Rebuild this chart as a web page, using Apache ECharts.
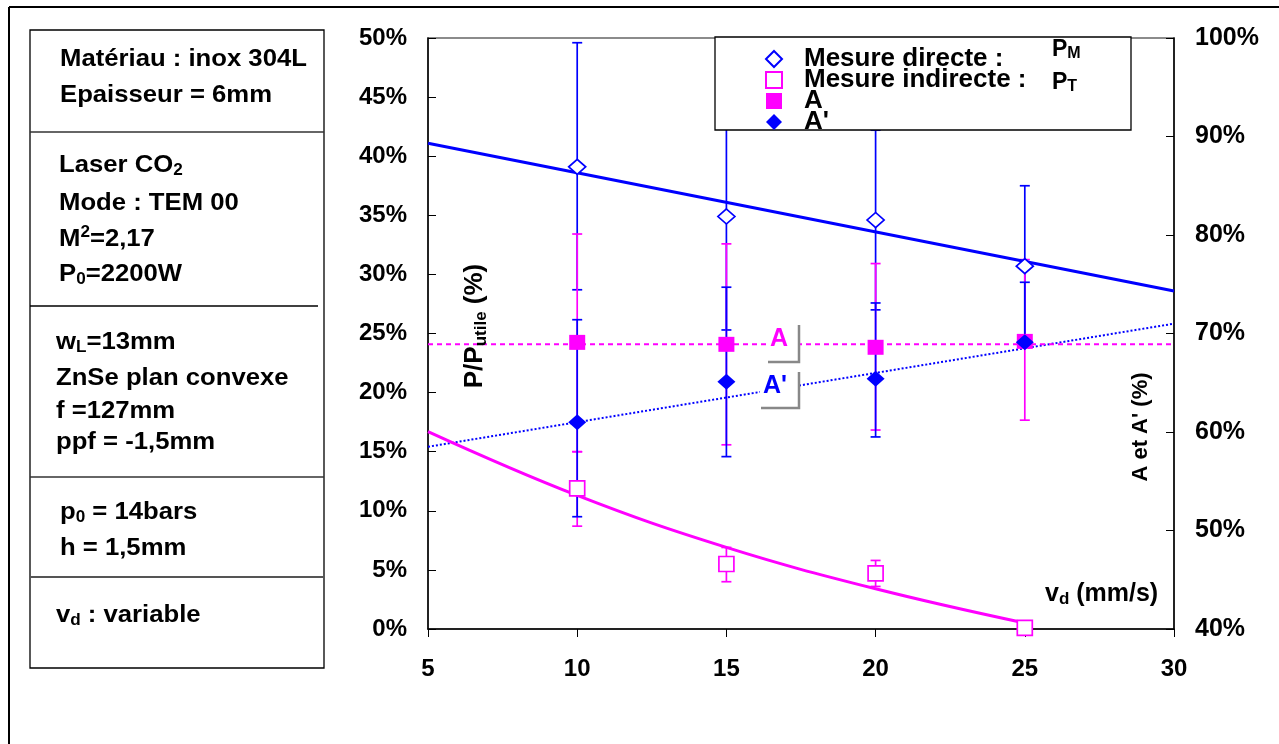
<!DOCTYPE html>
<html><head><meta charset="utf-8">
<script src="https://cdn.jsdelivr.net/npm/echarts@6/dist/echarts.min.js"></script>
<style>html,body{margin:0;padding:0;background:#fff}#c{width:1279px;height:744px}</style>
</head><body><div id="c"></div>
<script>
// ---- data ----
const speeds = [10, 15, 20, 25];
const pmValues = [39.1, 34.9, 34.6, 30.7];
const pmHigh = [49.6, 44.5, 42.2, 37.5];
const pmLow = [28.7, 25.3, 27.0, 23.9];
const ptValues = [11.9, 5.5, 4.7, 0.1];
const ptHigh = [15.0, 6.9, 5.8, 0.1];
const ptLow = [8.7, 4.0, 3.6, 0.1];
const aValues = [69.1, 68.9, 68.6, 69.2];
const aHigh = [80.1, 79.1, 77.1, 77.5];
const aLow = [58.0, 58.7, 60.2, 61.2];
const apValues = [61.0, 65.1, 65.4, 69.1];
const apHigh = [71.4, 74.7, 73.1, 75.2];
const apLow = [51.4, 57.5, 59.5, 69.1];
const trendX = [5, 30];
const pmTrend = [41.1, 28.6];
const apTrend = [58.5, 71.0];
const aMean = [68.9, 68.9];
const ptCurveX = [5, 10, 15, 20, 25];
const ptCurve = [16.7, 11.3, 6.9, 3.4, 0.5];
const xRange = {min: 5, max: 30, interval: 5};
const leftRange = {min: 0, max: 50, interval: 5};
const rightRange = {min: 40, max: 100, interval: 10};
const legendNames = ['Mesure directe :', 'Mesure indirecte :', 'A', "A'"];

const F = "'Liberation Sans', Arial, sans-serif";
const BLUE = '#0000ff', MAG = '#ff00ff';

const pairs = (xs, ys) => xs.map((x, i) => [x, ys[i]]);
const bars = (lo, hi) => speeds.map((x, i) => [x, lo[i], hi[i]]);

function errBar(color) {
  return function (params, api) {
    const x = api.value(0), lo = api.value(1), hi = api.value(2);
    if (lo === hi) return null;
    const p1 = api.coord([x, hi]), p2 = api.coord([x, lo]);
    const w = 5;
    const st = {stroke: color, lineWidth: 1.7};
    return {type: 'group', children: [
      {type: 'line', shape: {x1: p1[0], y1: p1[1], x2: p2[0], y2: p2[1]}, style: st},
      {type: 'line', shape: {x1: p1[0] - w, y1: p1[1], x2: p1[0] + w, y2: p1[1]}, style: st},
      {type: 'line', shape: {x1: p2[0] - w, y1: p2[1], x2: p2[0] + w, y2: p2[1]}, style: st}
    ]};
  };
}
function errSeries(name, lo, hi, color, yi) {
  return {type: 'custom', name: name, yAxisIndex: yi, data: bars(lo, hi),
    encode: {x: 0, y: [1, 2]}, renderItem: errBar(color), z: 2, silent: true};
}

const infoRich = {
  n: {fontSize: 24, fontWeight: 'bold', fill: '#000', lineHeight: 28, fontFamily: F},
  sub: {fontSize: 16, fontWeight: 'bold', fill: '#000', lineHeight: 15, verticalAlign: 'bottom', fontFamily: F},
  sup: {fontSize: 16, fontWeight: 'bold', fill: '#000', lineHeight: 15, verticalAlign: 'top', fontFamily: F}
};
const infoLines = [
  [60, 59, '{n|Matériau : inox 304L}'],
  [60, 95, '{n|Epaisseur = 6mm}'],
  [59, 165, '{n|Laser CO}{sub|2}'],
  [59, 203, '{n|Mode : TEM 00}'],
  [59, 239, '{n|M}{sup|2}{n|=2,17}'],
  [59, 274, '{n|P}{sub|0}{n|=2200W}'],
  [56, 342, '{n|w}{sub|L}{n|=13mm}'],
  [56, 378, '{n|ZnSe plan convexe}'],
  [56, 411, '{n|f =127mm}'],
  [56, 442, '{n|ppf = -1,5mm}'],
  [60, 512, '{n|p}{sub|0}{n| = 14bars}'],
  [60, 548, '{n|h = 1,5mm}'],
  [56, 615, '{n|v}{sub|d}{n| : variable}']
];

const graphics = [
  {type: 'line', shape: {x1: 9, y1: 7, x2: 9, y2: 744}, style: {stroke: '#000', lineWidth: 2}},
  {type: 'line', shape: {x1: 9, y1: 7, x2: 1279, y2: 7}, style: {stroke: '#000', lineWidth: 2}},
  {type: 'rect', shape: {x: 30, y: 30, width: 294, height: 638}, style: {fill: 'none', stroke: '#000', lineWidth: 1.3}},
  {type: 'line', shape: {x1: 30, y1: 132, x2: 324, y2: 132}, style: {stroke: '#333', lineWidth: 1.3}},
  {type: 'line', shape: {x1: 30, y1: 306, x2: 318, y2: 306}, style: {stroke: '#000', lineWidth: 1.3}},
  {type: 'line', shape: {x1: 30, y1: 477, x2: 324, y2: 477}, style: {stroke: '#333', lineWidth: 1.3}},
  {type: 'line', shape: {x1: 30, y1: 577, x2: 324, y2: 577}, style: {stroke: '#555', lineWidth: 1.8}}
];
infoLines.forEach(l => graphics.push({type: 'text', x: l[0], y: l[1], scaleX: 1.07,
  style: {text: l[2], rich: infoRich, align: 'left', verticalAlign: 'middle'}}));

// legend box + subscripts
graphics.push({type: 'rect', z: 25, shape: {x: 715, y: 37, width: 416, height: 93},
  style: {fill: '#fff', stroke: '#000', lineWidth: 1.3}});
const pRich = {
  p: {fontSize: 23, fontWeight: 'bold', fill: '#000', lineHeight: 24, fontFamily: F},
  s: {fontSize: 16, fontWeight: 'bold', fill: '#000', lineHeight: 13, verticalAlign: 'bottom', fontFamily: F}
};
graphics.push({type: 'text', z: 31, x: 1052, y: 50, style: {text: '{p|P}{s|M}', rich: pRich, verticalAlign: 'middle'}});
graphics.push({type: 'text', z: 31, x: 1052, y: 83, style: {text: '{p|P}{s|T}', rich: pRich, verticalAlign: 'middle'}});

// in-plot labels A and A'
graphics.push({type: 'rect', z: 20, shape: {x: 767, y: 322, width: 32, height: 40}, style: {fill: '#fff'}});
graphics.push({type: 'polyline', z: 21, shape: {points: [[768, 362], [799, 362], [799, 325]]}, style: {fill: 'none', stroke: '#888', lineWidth: 2.5}});
graphics.push({type: 'text', z: 22, x: 779, y: 339, style: {text: 'A', fill: MAG, fontSize: 25, fontWeight: 'bold', fontFamily: F, align: 'center', verticalAlign: 'middle'}});
graphics.push({type: 'rect', z: 20, shape: {x: 760, y: 369, width: 39, height: 39}, style: {fill: '#fff'}});
graphics.push({type: 'polyline', z: 21, shape: {points: [[761, 408], [799, 408], [799, 372]]}, style: {fill: 'none', stroke: '#888', lineWidth: 2.5}});
graphics.push({type: 'text', z: 22, x: 775, y: 386, style: {text: "A'", fill: BLUE, fontSize: 25, fontWeight: 'bold', fontFamily: F, align: 'center', verticalAlign: 'middle'}});

// axis titles
graphics.push({type: 'text', z: 22, x: 475, y: 326, rotation: Math.PI / 2, style: {
  text: '{n|P/P}{s|utile}{n| (%)}', align: 'center', verticalAlign: 'middle',
  rich: {n: {fontSize: 26, fontWeight: 'bold', fill: '#000', lineHeight: 29, fontFamily: F},
         s: {fontSize: 17, fontWeight: 'bold', fill: '#000', lineHeight: 16, verticalAlign: 'bottom', fontFamily: F}}}});
graphics.push({type: 'text', z: 22, x: 1141, y: 427, rotation: Math.PI / 2, style: {
  text: "A et A' (%)", fill: '#000', fontSize: 22, fontWeight: 'bold', fontFamily: F, align: 'center', verticalAlign: 'middle'}});
graphics.push({type: 'text', z: 22, x: 1045, y: 594, style: {
  text: '{n|v}{s|d}{n| (mm/s)}', align: 'left', verticalAlign: 'middle',
  rich: {n: {fontSize: 25, fontWeight: 'bold', fill: '#000', lineHeight: 28, fontFamily: F},
         s: {fontSize: 17, fontWeight: 'bold', fill: '#000', lineHeight: 16, verticalAlign: 'bottom', fontFamily: F}}}});

const axisCommon = {
  axisLine: {show: true, onZero: false, lineStyle: {color: '#000', width: 1.5}},
  axisTick: {show: true, inside: true, length: 8, lineStyle: {color: '#000', width: 1}},
  splitLine: {show: false}
};

const chart = echarts.init(document.getElementById('c'), null, {renderer: 'canvas'});
chart.setOption({
  animation: false,
  backgroundColor: '#fff',
  textStyle: {fontFamily: F},
  grid: {left: 428, right: 105, top: 38, bottom: 115, show: true, borderColor: '#666', borderWidth: 1.5},
  xAxis: Object.assign({}, axisCommon, {type: 'value', min: xRange.min, max: xRange.max, interval: xRange.interval,
    axisTick: {show: true, inside: false, length: 8, lineStyle: {color: '#000', width: 1}},
    axisLabel: {color: '#000', fontWeight: 'bold', fontSize: 24, fontFamily: F, margin: 28}}),
  yAxis: [
    Object.assign({}, axisCommon, {type: 'value', position: 'left', min: leftRange.min, max: leftRange.max, interval: leftRange.interval,
      axisLabel: {color: '#000', fontWeight: 'bold', fontSize: 24, fontFamily: F, margin: 21, padding: [6, 0, 0, 0], formatter: '{value}%'}}),
    Object.assign({}, axisCommon, {type: 'value', position: 'right', min: rightRange.min, max: rightRange.max, interval: rightRange.interval,
      axisLabel: {color: '#000', fontWeight: 'bold', fontSize: 25, fontFamily: F, margin: 21, padding: [6, 0, 0, 0], formatter: '{value}%'}})
  ],
  legend: {orient: 'vertical', left: 765, top: 46, padding: 0, itemGap: -5, itemWidth: 16, itemHeight: 16,
    data: legendNames, selectedMode: false, z: 30,
    formatter: function (n) { return '{sp|}{t|' + n + '}'; },
    textStyle: {fontFamily: F, rich: {
      sp: {width: 17, lineHeight: 21},
      t: {fontSize: 26, fontWeight: 'bold', color: '#000', lineHeight: 21, fontFamily: F}}}},
  graphic: {elements: graphics},
  series: [
    errSeries('errPM', pmLow, pmHigh, BLUE, 0),
    errSeries('errPT', ptLow, ptHigh, MAG, 0),
    errSeries('errA', aLow, aHigh, MAG, 1),
    errSeries('errAp', apLow, apHigh, BLUE, 1),
    {type: 'line', name: 'trendPM', yAxisIndex: 0, data: pairs(trendX, pmTrend), showSymbol: false, silent: true,
      lineStyle: {color: BLUE, width: 3}, z: 3},
    {type: 'line', name: 'trendAp', yAxisIndex: 1, data: pairs(trendX, apTrend), showSymbol: false, silent: true,
      lineStyle: {color: BLUE, width: 2, type: 'dotted'}, z: 3},
    {type: 'line', name: 'meanA', yAxisIndex: 1, data: pairs(trendX, aMean), showSymbol: false, silent: true,
      lineStyle: {color: MAG, width: 2, type: [5, 4]}, z: 3},
    {type: 'line', name: 'trendPT', yAxisIndex: 0, data: pairs(ptCurveX, ptCurve), showSymbol: false, silent: true, smooth: 0.4,
      lineStyle: {color: MAG, width: 3}, z: 3},
    {type: 'scatter', name: 'Mesure directe :', yAxisIndex: 0, data: pairs(speeds, pmValues), symbol: 'diamond', symbolSize: [17, 15],
      itemStyle: {color: '#fff', borderColor: BLUE, borderWidth: 1.7, opacity: 1}, z: 5},
    {type: 'scatter', name: 'Mesure indirecte :', yAxisIndex: 0, data: pairs(speeds, ptValues), symbol: 'rect', symbolSize: [15, 15],
      itemStyle: {color: '#fff', borderColor: MAG, borderWidth: 1.7, opacity: 1}, z: 5},
    {type: 'scatter', name: 'A', yAxisIndex: 1, data: pairs(speeds, aValues), symbol: 'rect', symbolSize: [16, 15],
      itemStyle: {color: MAG, opacity: 1}, z: 5},
    {type: 'scatter', name: "A'", yAxisIndex: 1, data: pairs(speeds, apValues), symbol: 'diamond', symbolSize: [18, 16],
      itemStyle: {color: BLUE, opacity: 1}, z: 6}
  ]
});
</script></body></html>
